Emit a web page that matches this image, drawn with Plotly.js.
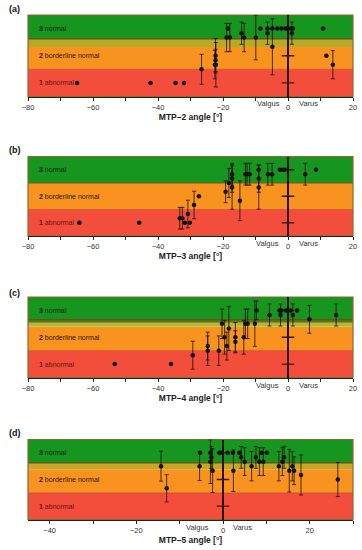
<!DOCTYPE html>
<html>
<head>
<meta charset="utf-8">
<script src="https://cdn.plot.ly/plotly-3.0.1.min.js"></script>
<style>html,body{margin:0;padding:0;background:#fff}#chart{width:362px;height:550px}</style>
</head>
<body>
<div id="chart"></div>
<script>
// ---- data (x = angle in degrees, y = mean rating, sd = error bar) ----
const panelLetters = ["(a)", "(b)", "(c)", "(d)"];
const axisTitles = ["MTP–2 angle [°]", "MTP–3 angle [°]", "MTP–4 angle [°]", "MTP–5 angle [°]"];
const categoryLabels = ["<b>1</b> abnormal", "<b>2</b> borderline normal", "<b>3</b> normal"];
const categoryValues = [1, 2, 3];
const sideLabels = ["Valgus", "Varus"];

const mtp2X  = [-64.9,-42.3,-34.6,-32.0,-26.6,-22.3,-22.3,-22.5,-22.2,-18.5,-18.9,-17.9,-14.3,-13.5,-9.9,-8.5,-6.3,-6.3,-4.8,-4.8,-3.3,-2.0,-0.7,0.0,1.0,1.5,1.2,10.8,11.8,13.8];
const mtp2Y  = [1,1,1,1,1.5,2.0,1.83,1.67,1.67,3,2.67,2.67,2.83,2.67,2.67,3,3,2.83,3,2.33,3,3,3,3,3,3,2.83,3,2.0,1.67];
const mtp2SD = [0,0,0,0,0.55,0.63,0.41,0.52,0.82,0,0.52,0.52,0.41,0.52,0.82,0,0,0.41,0,1.03,0,0,0,0,0,0,0.41,0,0,0.52];

const mtp3X  = [-64.2,-45.8,-33.3,-32.5,-31.7,-30.8,-30.2,-28.9,-27.4,-19.2,-18.2,-17.2,-17.2,-17.2,-14.8,-13.1,-12.6,-11.8,-9.0,-9.0,-9.0,-6.2,-4.9,-2.5,-1.6,-1.0,5.3,8.6];
const mtp3Y  = [1,1,1.17,1.17,1,1.33,1,1.67,2.0,2.17,2.5,2.83,2.67,2.33,1.83,2.83,2.83,2.83,3,2.67,2.33,2.83,2.83,3,3,3,2.83,3];
const mtp3SD = [0,0,0.41,0.41,0,0.52,0,0.52,0,0.41,0.55,0.41,0.52,0.82,0.75,0.41,0.41,0.41,0,0.52,0.82,0.41,0.41,0,0,0,0.41,0];

const mtp4X  = [-53.3,-36.0,-29.3,-24.7,-24.7,-21.3,-20.3,-19.5,-18.8,-18.2,-16.2,-16.2,-13.6,-13.1,-12.4,-10.2,-9.7,-5.7,-2.6,-2.3,-2.0,-0.6,0.7,1.5,2.8,6.6,14.8];
const mtp4Y  = [1,1,1.33,1.67,1.5,1.5,2.5,2.0,1.67,2.33,2.0,1.83,2.0,2.5,2.5,2.5,3,2.83,3,2.83,3,3,3,2.83,3,2.67,2.83];
const mtp4SD = [0,0,0.52,0.52,0.55,0.55,0.55,0.63,0.52,0.82,0.55,0.41,0.63,0.55,0.55,0.84,0.35,0.41,0,0.41,0,0,0,0.41,0,0.52,0.41];

const mtp5X  = [-14.3,-13.0,-5.3,-5.4,-2.9,-2.7,-2.9,-2.4,-0.8,-0.4,1.1,2.3,2.4,3.8,4.2,5.0,6.6,7.6,8.4,8.9,9.3,10.1,12.9,13.7,14.1,15.3,16.0,16.4,18.0,26.5];
const mtp5Y  = [2.5,1.67,3,2.5,3,2.83,2.67,2.33,3,3,3,3,2.33,3,2.83,2.67,2.5,2.83,2.67,3,2.67,3,2.5,2.67,2.83,2.33,2.5,2.33,2.17,2.0];
const mtp5SD = [0.56,0.51,0,0.54,0,0.41,0.82,0.82,0,0,0,0,0.78,0,0.41,0.52,0.55,0.41,0.52,0,0.52,0,0.55,0.52,0.41,0.8,0.55,0.52,0.75,0.64];

const xRanges = [[-80,20],[-80,20],[-80,20],[-45,30]];

// ---- layout / style ----
const H = 550;
const pyDomains = [[15,96.5],[156.5,236],[297,377.5],[439.5,519.5]];
const GREEN = "#16951f", ORANGE = "#f7931e", RED = "#f24e3b";
const bandSpec = [
  {orangeTop:2.32, greenBottom:2.62, strips:[{y0:2.32,y1:2.62,c:"#b9a928"}], sep:"#6d4f17"},
  {orangeTop:2.5, greenBottom:2.5, strips:[], sep:"#7a5a1a"},
  {orangeTop:2.4, greenBottom:2.66, strips:[{y0:2.4,y1:2.54,c:"#a8bf2a"},{y0:2.54,y1:2.66,c:"#6d6a1e"}], sep:"#5a5a18"},
  {orangeTop:2.38, greenBottom:2.62, strips:[{y0:2.38,y1:2.62,c:"#c8a626"}], sep:"#6d4f17"}
];
const sideShifts = [[-6,9],[-7.5,8.5],[-7.5,8.5],[-12,8]];
const datasets = [[mtp2X,mtp2Y,mtp2SD],[mtp3X,mtp3Y,mtp3SD],[mtp4X,mtp4Y,mtp4SD],[mtp5X,mtp5Y,mtp5SD]];

const FONT = "Liberation Sans, Arial, sans-serif";
const traces = [], shapes = [], annotations = [];
const layout = {
  width:362, height:550,
  margin:{l:28, r:9, t:0, b:0},
  paper_bgcolor:"#fff", plot_bgcolor:"rgba(0,0,0,0)",
  showlegend:false,
  font:{family:FONT, size:7.5, color:"#333"},
};

datasets.forEach((d, i) => {
  const n = i + 1;
  const xa = "x" + (n === 1 ? "" : n), ya = "y" + (n === 1 ? "" : n);
  const xk = "xaxis" + (n === 1 ? "" : n), yk = "yaxis" + (n === 1 ? "" : n);
  const dom = [1 - pyDomains[i][1] / H, 1 - pyDomains[i][0] / H];
  layout[xk] = {
    domain:[0,1], anchor:ya, range:xRanges[i],
    showgrid:false, zeroline:true, zerolinecolor:"#2a120c", zerolinewidth:1.4,
    showline:true, linecolor:"#222", linewidth:1,
    ticks:"outside", ticklen:3, tickwidth:1, tickcolor:"#222",
    dtick:20, tick0:0,
    minor:{dtick:10, ticks:"outside", ticklen:3, tickwidth:1, tickcolor:"#222", showgrid:false},
    tickfont:{family:FONT, size:7.5, color:"#333"},
    title:{text:"<b>" + axisTitles[i] + "</b>", font:{family:FONT, size:8.5, color:"#222"}, standoff:3},
    fixedrange:true
  };
  layout[yk] = {
    domain:dom, anchor:xa, range:[0.5,3.5],
    showgrid:false, zeroline:false, showline:false, showticklabels:false, ticks:"",
    fixedrange:true
  };
  const b = bandSpec[i];
  const band = (y0, y1, c) => shapes.push({type:"rect", xref:xa+" domain", yref:ya, x0:0, x1:1, y0:y0, y1:y1, fillcolor:c, line:{width:0}, layer:"below"});
  band(0.5, 1.5, RED);
  band(1.5, b.orangeTop, ORANGE);
  b.strips.forEach(s => band(s.y0, s.y1, s.c));
  band(b.greenBottom, 3.5, GREEN);
  shapes.push({type:"line", xref:xa+" domain", yref:ya, x0:0, x1:1, y0:b.greenBottom, y1:b.greenBottom, line:{color:b.sep, width:1.2}, layer:"below"});
  shapes.push({type:"line", xref:xa+" domain", yref:ya, x0:0, x1:1, y0:1.5, y1:1.5, line:{color:"#c2452a", width:0.7}, layer:"below"});
  shapes.push({type:"rect", xref:xa+" domain", yref:ya+" domain", x0:0, x1:1, y0:0, y1:1, line:{color:"#8b6a2e", width:1.2}, fillcolor:"rgba(0,0,0,0)", layer:"below"});

  // y-axis cross ticks at x = 0
  traces.push({type:"scatter", mode:"markers", xaxis:xa, yaxis:ya,
    x:categoryValues.map(() => 0), y:categoryValues, hoverinfo:"skip",
    marker:{symbol:"line-ew", size:9, line:{width:1.3, color:"#3a140e"}}});

  traces.push({type:"scatter", mode:"markers", xaxis:xa, yaxis:ya,
    x:d[0], y:d[1],
    marker:{color:"#111", size:4.5},
    error_y:{type:"data", array:d[2], visible:true, color:"#1a120e", thickness:0.8, width:2}});

  const labelColors = ["#6a0e0e", "#2e1406", "#14220e"];
  categoryLabels.forEach((t, k) => {
    annotations.push({xref:xa+" domain", yref:ya, x:0.027, y:categoryValues[k], text:t, showarrow:false,
      xanchor:"left", yanchor:"middle", font:{family:FONT, size:7, color:labelColors[k]}});
  });
  annotations.push({xref:xa, yref:ya+" domain", x:0, y:0, text:sideLabels[0], showarrow:false,
    xanchor:"right", yanchor:"top", xshift:sideShifts[i][0], yshift:-1, font:{family:FONT, size:7.5, color:"#333"}});
  annotations.push({xref:xa, yref:ya+" domain", x:0, y:0, text:sideLabels[1], showarrow:false,
    xanchor:"left", yanchor:"top", xshift:sideShifts[i][1], yshift:-1, font:{family:FONT, size:7.5, color:"#333"}});
  annotations.push({xref:"paper", yref:"paper", x:-0.066, y:1 - [9.3,150,292.7,432.7][i] / H, text:"<b>" + panelLetters[i] + "</b>",
    showarrow:false, xanchor:"left", yanchor:"middle", font:{family:FONT, size:9, color:"#111"}});
});

layout.shapes = shapes;
layout.annotations = annotations;
Plotly.newPlot("chart", traces, layout, {displayModeBar:false, staticPlot:true});
</script>
</body>
</html>
